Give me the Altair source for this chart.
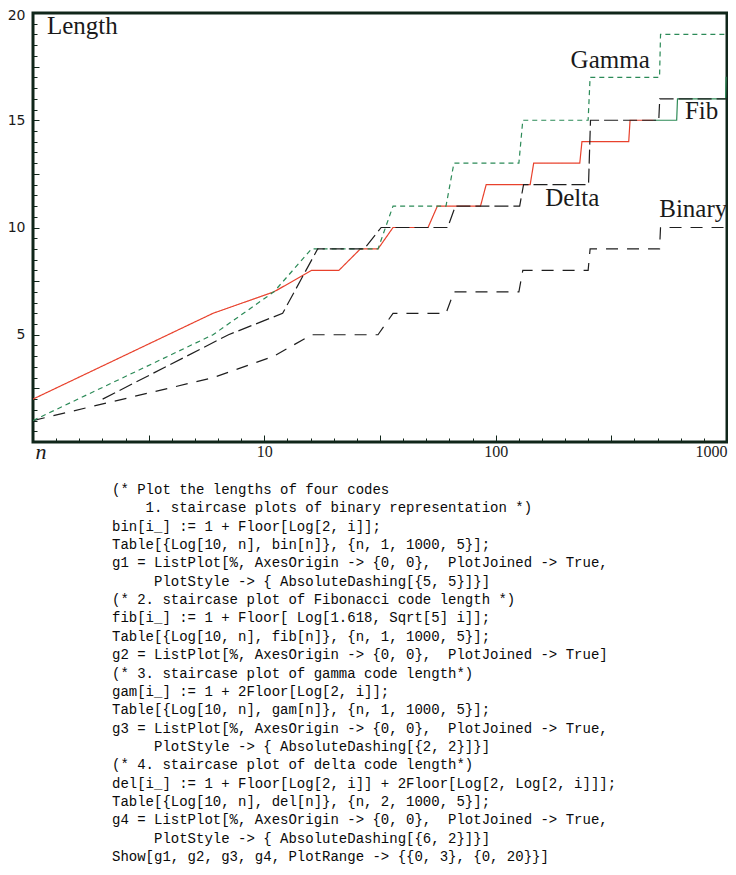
import altair as alt
import pandas as pd

# ---- data: transition points of each staircase (sampled n = 1, 6, 11, ... / 2, 7, 12, ...) ----
binary_n = [1, 6, 11, 16, 31, 36, 61, 66, 126, 131, 251, 256, 511, 516, 996]
binary_len = [1, 3, 4, 5, 5, 6, 6, 7, 7, 8, 8, 9, 9, 10, 10]

fib_red_n = [1, 6, 11, 16, 21, 26, 31, 36, 51, 56, 86, 91, 141, 146, 231, 236, 376, 381, 481]
fib_red_len = [2, 6, 7, 8, 8, 9, 9, 10, 10, 11, 11, 12, 12, 13, 13, 14, 14, 15, 15]
fib_green_n = [481, 606, 611, 986, 991, 996]
fib_green_len = [15, 15, 16, 16, 17, 17]

gamma_n = [1, 6, 11, 16, 31, 36, 61, 66, 126, 131, 251, 256, 511, 516, 996]
gamma_len = [1, 5, 7, 9, 9, 11, 11, 13, 13, 15, 15, 17, 17, 19, 19]

delta_n = [2, 7, 12, 17, 27, 32, 62, 67, 127, 132, 252, 257, 507, 512, 997]
delta_len = [2, 5, 6, 9, 9, 10, 10, 11, 11, 12, 12, 15, 15, 16, 16]

label_text = ["Length", "Gamma", "Fib", "Delta", "Binary"]
label_logn = [0.06, 2.324, 2.818, 2.214, 2.707]
label_len = [19.0, 17.44, 15.07, 11.01, 10.47]

x_label_values = [1, 2, 3]
x_label_text = ["10", "100", "1000"]
y_label_values = [5, 10, 15, 20]
x_tick_values = [round(0.1 * i, 1) for i in range(31)]
y_tick_values = [0.5 * i for i in range(41)]

code_lines = [
    "(* Plot the lengths of four codes",
    "    1. staircase plots of binary representation *)",
    "bin[i_] := 1 + Floor[Log[2, i]];",
    "Table[{Log[10, n], bin[n]}, {n, 1, 1000, 5}];",
    "g1 = ListPlot[%, AxesOrigin -> {0, 0},  PlotJoined -> True,",
    "     PlotStyle -> { AbsoluteDashing[{5, 5}]}]",
    "(* 2. staircase plot of Fibonacci code length *)",
    "fib[i_] := 1 + Floor[ Log[1.618, Sqrt[5] i]];",
    "Table[{Log[10, n], fib[n]}, {n, 1, 1000, 5}];",
    "g2 = ListPlot[%, AxesOrigin -> {0, 0},  PlotJoined -> True]",
    "(* 3. staircase plot of gamma code length*)",
    "gam[i_] := 1 + 2Floor[Log[2, i]];",
    "Table[{Log[10, n], gam[n]}, {n, 1, 1000, 5}];",
    "g3 = ListPlot[%, AxesOrigin -> {0, 0},  PlotJoined -> True,",
    "     PlotStyle -> { AbsoluteDashing[{2, 2}]}]",
    "(* 4. staircase plot of delta code length*)",
    "del[i_] := 1 + Floor[Log[2, i]] + 2Floor[Log[2, Log[2, i]]];",
    "Table[{Log[10, n], del[n]}, {n, 2, 1000, 5}];",
    "g4 = ListPlot[%, AxesOrigin -> {0, 0},  PlotJoined -> True,",
    "     PlotStyle -> { AbsoluteDashing[{6, 2}]}]",
    "Show[g1, g2, g3, g4, PlotRange -> {{0, 3}, {0, 20}}]",
]
# keep indentation / double spaces in SVG text (zero-width lead char survives trimming)
code_lines = ["\u200b" + s.replace(" ", "\u00a0") for s in code_lines]

# ---- tables ----
series = [
    ("Binary", binary_n, binary_len, "#1e1e1e", [12, 9]),
    ("FibRed", fib_red_n, fib_red_len, "#e8412c", [1, 0]),
    ("FibGreen", fib_green_n, fib_green_len, "#2e8b57", [1, 0]),
    ("Gamma", gamma_n, gamma_len, "#2b8a57", [5, 4]),
    ("Delta", delta_n, delta_len, "#1e1e1e", [14, 5]),
]
rows = []
for name, ns, ls, _, _ in series:
    for n, l in zip(ns, ls):
        rows.append({"series": name, "n": n, "length": l})
df = pd.DataFrame(rows)
labels_df = pd.DataFrame({"label": label_text, "lx": label_logn, "length": label_len})

W, H = 694, 429
FRAME = "#10261a"
xscale = alt.Scale(domain=[0, 3], nice=False, zero=False)
yscale = alt.Scale(domain=[0, 20], nice=False, zero=False)

label_expr = " : ".join(
    f"datum.value == {v} ? '{t}'" for v, t in zip(x_label_values, x_label_text)
) + " : ''"

x_label_axis = alt.Axis(
    orient="bottom", values=x_label_values, labelExpr=label_expr,
    ticks=False, domain=False, grid=False,
    labelFont="Liberation Serif", labelFontSize=16, labelColor="#1a1a1a",
    labelPadding=1, labelBound=False, labelOverlap=False, labelFlush=True,
    title="n", titleFont="Liberation Serif", titleFontStyle="italic",
    titleFontSize=22, titleFontWeight="normal", titleColor="#1a1a1a",
    titleAnchor="start", titleAlign="left", titleBaseline="alphabetic",
    titleX=2, titleY=16,
)
y_label_axis = alt.Axis(
    orient="left", values=y_label_values, ticks=False, domain=False, grid=False,
    labelFont="DejaVu Sans", labelFontSize=14, labelColor="#1a1a1a",
    labelPadding=8, title=None, labelBound=False,
    labelOffset={"condition": {"test": "datum.value == 20", "value": 2.5}, "value": 0},
)
x_tick_axis = alt.Axis(
    orient="top", offset=-H, values=x_tick_values, labels=False, domain=False,
    grid=False, title=None, tickColor=FRAME, tickWidth=1,
    tickSize={"condition": {"test": "abs(datum.value * 2 - round(datum.value * 2)) < 0.001", "value": 7}, "value": 4},
)
y_tick_axis = alt.Axis(
    orient="right", offset=-W, values=y_tick_values, labels=False, domain=False,
    grid=False, title=None, tickColor=FRAME, tickWidth=1,
    tickSize={"condition": {"test": "abs(datum.value / 2.5 - round(datum.value / 2.5)) < 0.001", "value": 6}, "value": 4},
)

base = alt.Chart(df).transform_calculate(lx="log(datum.n) / LN10")

layers = []
for i, (name, _, _, color, dash) in enumerate(series):
    layer = base.transform_filter(alt.datum.series == name).mark_line(
        color=color, strokeDash=dash, strokeWidth=1.2, strokeCap="butt", clip=True
    ).encode(
        x=alt.X("lx:Q", scale=xscale, axis=x_label_axis if i == 0 else None),
        y=alt.Y("length:Q", scale=yscale, axis=y_label_axis if i == 0 else None),
        order="n:Q",
    )
    layers.append(layer)

# carrier of the inward tick marks
ticks_layer = base.transform_filter(alt.datum.series == "Binary").mark_line(opacity=0).encode(
    x=alt.X("lx:Q", scale=xscale, axis=x_tick_axis),
    y=alt.Y("length:Q", scale=yscale, axis=y_tick_axis),
    order="n:Q",
)
layers.append(ticks_layer)

text_layer = alt.Chart(labels_df).mark_text(
    align="left", baseline="alphabetic", font="Liberation Serif", fontSize=25,
    color="#1a1a1a",
).encode(
    x=alt.X("lx:Q", scale=xscale, axis=None),
    y=alt.Y("length:Q", scale=yscale, axis=None),
    text="label:N",
)
layers.append(text_layer)

chart = alt.layer(*layers).resolve_axis(x="independent", y="independent").properties(
    width=W, height=H,
    title=alt.TitleParams(
        text=code_lines, orient="bottom", anchor="start", frame="group",
        offset=21, dx=79, font="Liberation Mono", fontSize=14,
        fontWeight="normal", color="#0a0a0a", lineHeight=18.35,
        align="left", baseline="top",
    ),
    autosize=alt.AutoSizeParams(type="none"),
    padding={"left": 25, "top": 5, "right": 1, "bottom": 424},
).configure_view(stroke=FRAME, strokeWidth=3)

chart.save("out.html", embed_options={"renderer": "svg", "actions": False})
